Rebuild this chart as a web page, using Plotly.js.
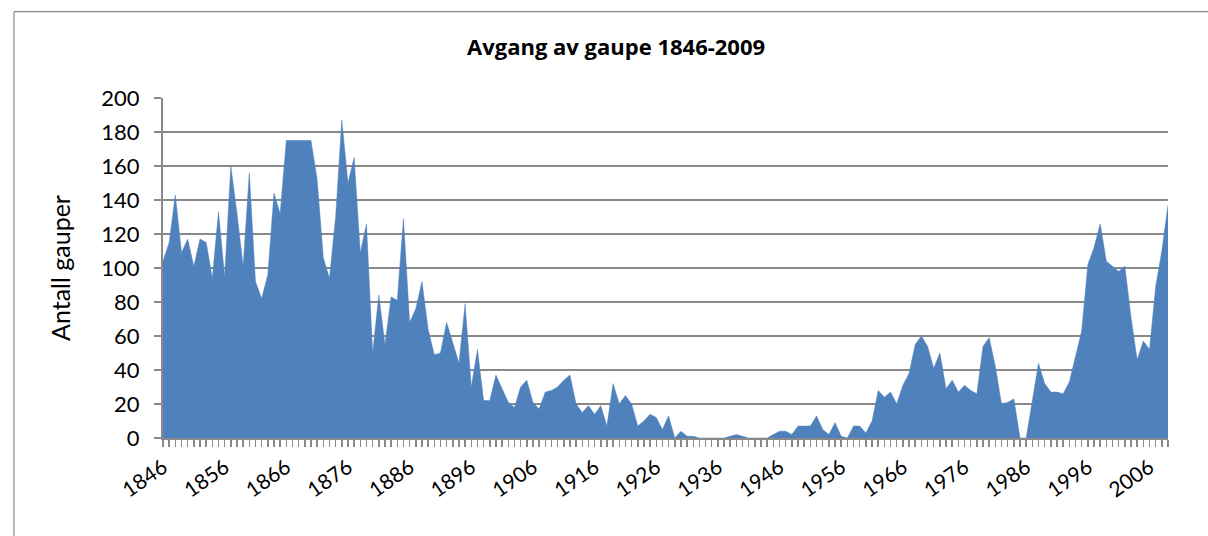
<!DOCTYPE html>
<html>
<head>
<meta charset="utf-8">
<script src="https://cdn.plot.ly/plotly-3.0.1.min.js"></script>
<style>
  html, body { margin: 0; padding: 0; background: #ffffff; }
  #chart { width: 1208px; height: 536px; }
</style>
</head>
<body>
<div id="chart"></div>
<script>
// Data (number of lynx killed per year)
const firstYear = 1846;
const lastYear = 2009;
const counts = [
  104, 115, 143, 109, 117, 101, 117, 115, 94, 133,   // 1846-1855
  95, 160, 132, 101, 156, 92, 82, 96, 144, 132,      // 1856-1865
  175, 175, 175, 175, 175, 152, 106, 94, 130, 187,   // 1866-1875
  150, 165, 109, 126, 50, 84, 55, 83, 81, 129,       // 1876-1885
  68, 76, 92, 64, 49, 50, 68, 56, 44, 79,            // 1886-1895
  30, 52, 22, 22, 37, 29, 21, 18, 30, 34,            // 1896-1905
  21, 17, 27, 28, 30, 34, 37, 20, 15, 19,            // 1906-1915
  14, 19, 7, 32, 20, 25, 20, 7, 10, 14,              // 1916-1925
  12, 5, 13, 0, 4, 1, 1, 0, 0, 0,                    // 1926-1935
  0, 0, 1, 2, 1, 0, 0, 0, 0, 2,                      // 1936-1945
  4, 4, 2, 7, 7, 7, 13, 5, 2, 9,                     // 1946-1955
  1, 0, 7, 7, 3, 10, 28, 24, 27, 20,                 // 1956-1965
  31, 38, 55, 60, 54, 41, 50, 29, 34, 27,            // 1966-1975
  31, 28, 26, 54, 59, 42, 20, 21, 23, 0,             // 1976-1985
  0, 22, 44, 32, 27, 27, 26, 33, 48, 63,             // 1986-1995
  102, 112, 126, 104, 101, 98, 101, 71, 46, 57,      // 1996-2005
  52, 89, 110, 137                                   // 2006-2009
];
const years = counts.map((_, k) => firstYear + k);
const tickYears = [1846, 1856, 1866, 1876, 1886, 1896, 1906, 1916, 1926, 1936, 1946, 1956, 1966, 1976, 1986, 1996, 2006];
const tickLabels = tickYears.map(String);
const yTicks = [0, 20, 40, 60, 80, 100, 120, 140, 160, 180, 200];

const titleText = 'Avgang av gaupe 1846-2009';
const yTitleText = 'Antall gauper';

const font = 'Lato, "Open Sans", "Liberation Sans", sans-serif';
const titleFont = '"Open Sans", Lato, "Liberation Sans", sans-serif';
const gray = '#898989';

const trace = {
  type: 'scatter',
  mode: 'lines',
  x: years,
  y: counts,
  fill: 'tozeroy',
  fillcolor: '#4F81BD',
  line: { color: '#4F81BD', width: 0.5 },
  hoverinfo: 'x+y',
  showlegend: false
};

const layout = {
  width: 1208,
  height: 536,
  margin: { l: 163, r: 40, t: 98, b: 98 },
  paper_bgcolor: '#ffffff',
  plot_bgcolor: '#ffffff',
  font: { family: font, color: '#000000' },
  title: {
    text: '<b>' + titleText + '</b>',
    font: { family: titleFont, size: 22, color: '#000000' },
    x: 0.51, xref: 'container', xanchor: 'center',
    y: 0.912, yref: 'container', yanchor: 'middle'
  },
  xaxis: {
    range: [firstYear, lastYear],
    tickmode: 'array',
    tickvals: tickYears,
    ticktext: tickLabels,
    tickangle: -35,
    tickfont: { family: font, size: 21 },
    ticks: 'outside',
    ticklen: 7,
    tickwidth: 1.5,
    tickcolor: gray,
    minor: { dtick: 1, tick0: firstYear, ticks: 'outside', ticklen: 7, tickwidth: 1.5, tickcolor: gray, showgrid: false },
    showline: true,
    linecolor: gray,
    linewidth: 2,
    showgrid: false,
    zeroline: false,
    fixedrange: true
  },
  yaxis: {
    range: [0, 200],
    tickmode: 'array',
    tickvals: yTicks,
    tickfont: { family: font, size: 22 },
    ticks: 'outside',
    ticklen: 7,
    tickwidth: 1.5,
    tickcolor: gray,
    ticklabelstandoff: 10,
    showline: true,
    linecolor: gray,
    linewidth: 2,
    showgrid: true,
    gridcolor: gray,
    gridwidth: 1.8,
    zeroline: false,
    title: { text: yTitleText, font: { family: font, size: 25 }, standoff: 24 },
    fixedrange: true
  },
  shapes: [
    { type: 'line', xref: 'paper', yref: 'paper', x0: -0.1483, x1: 1.1, y0: 1.2538, y1: 1.2538, line: { color: gray, width: 1.2 } },
    { type: 'line', xref: 'paper', yref: 'paper', x0: -0.1483, x1: -0.1483, y0: 1.2538, y1: -0.4, line: { color: gray, width: 1.2 } }
  ]
};

Plotly.newPlot('chart', [trace], layout, { displayModeBar: false, staticPlot: true });
</script>
</body>
</html>
